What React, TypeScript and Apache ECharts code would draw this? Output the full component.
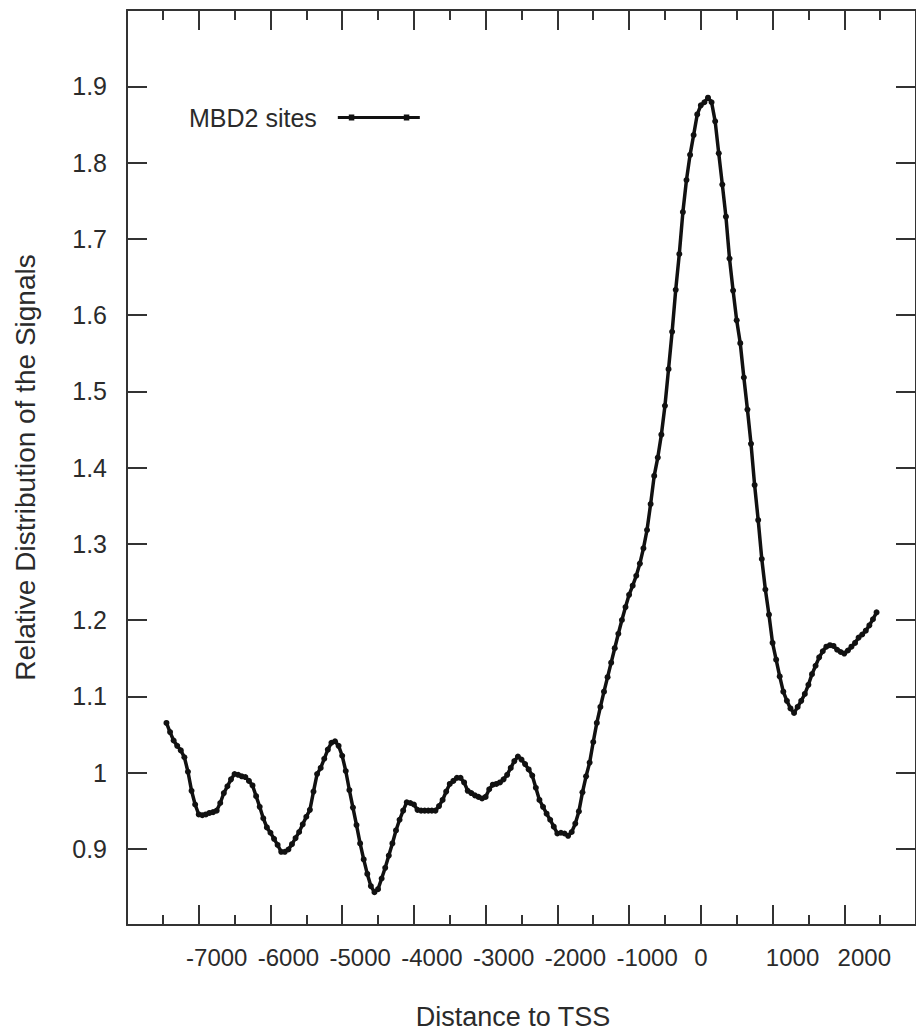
import React, { useEffect, useRef } from "react";
import * as echarts from "echarts";

// Distance to TSS (bp), one bin every 50 bp
const positions: number[] = [
  -7450, -7400, -7350, -7300, -7250, -7200, -7150, -7100, -7050, -7000,
  -6950, -6900, -6850, -6800, -6750, -6700, -6650, -6600, -6550, -6500,
  -6450, -6400, -6350, -6300, -6250, -6200, -6150, -6100, -6050, -6000,
  -5950, -5900, -5850, -5800, -5750, -5700, -5650, -5600, -5550, -5500,
  -5450, -5400, -5350, -5300, -5250, -5200, -5150, -5100, -5050, -5000,
  -4950, -4900, -4850, -4800, -4750, -4700, -4650, -4600, -4550, -4500,
  -4450, -4400, -4350, -4300, -4250, -4200, -4150, -4100, -4050, -4000,
  -3950, -3900, -3850, -3800, -3750, -3700, -3650, -3600, -3550, -3500,
  -3450, -3400, -3350, -3300, -3250, -3200, -3150, -3100, -3050, -3000,
  -2950, -2900, -2850, -2800, -2750, -2700, -2650, -2600, -2550, -2500,
  -2450, -2400, -2350, -2300, -2250, -2200, -2150, -2100, -2050, -2000,
  -1950, -1900, -1850, -1800, -1750, -1700, -1650, -1600, -1550, -1500,
  -1450, -1400, -1350, -1300, -1250, -1200, -1150, -1100, -1050, -1000,
  -950, -900, -850, -800, -750, -700, -650, -600, -550, -500,
  -450, -400, -350, -300, -250, -200, -150, -100, -50, 0,
  50, 100, 150, 200, 250, 300, 350, 400, 450, 500,
  550, 600, 650, 700, 750, 800, 850, 900, 950, 1000,
  1050, 1100, 1150, 1200, 1250, 1300, 1350, 1400, 1450, 1500,
  1550, 1600, 1650, 1700, 1750, 1800, 1850, 1900, 1950, 2000,
  2050, 2100, 2150, 2200, 2250, 2300, 2350, 2400, 2450,
];

// Relative distribution of MBD2 signals
const mbd2Signal: number[] = [
  1.065, 1.053, 1.042, 1.035, 1.029, 1.020, 1.001, 0.976, 0.958, 0.945,
  0.944, 0.945, 0.947, 0.948, 0.950, 0.960, 0.973, 0.982, 0.991, 0.998,
  0.997, 0.995, 0.994, 0.989, 0.983, 0.969, 0.955, 0.940, 0.928, 0.921,
  0.913, 0.905, 0.896, 0.896, 0.899, 0.906, 0.914, 0.922, 0.932, 0.942,
  0.951, 0.975, 0.998, 1.006, 1.018, 1.030, 1.039, 1.041, 1.035, 1.022,
  1.002, 0.977, 0.954, 0.931, 0.907, 0.886, 0.867, 0.851, 0.843, 0.847,
  0.861, 0.875, 0.891, 0.907, 0.924, 0.938, 0.950, 0.961, 0.960, 0.958,
  0.951, 0.950, 0.950, 0.950, 0.950, 0.950, 0.956, 0.964, 0.975, 0.985,
  0.989, 0.993, 0.993, 0.987, 0.976, 0.973, 0.970, 0.968, 0.966, 0.968,
  0.978, 0.984, 0.985, 0.987, 0.991, 0.997, 1.006, 1.015, 1.021, 1.017,
  1.011, 1.004, 0.996, 0.980, 0.964, 0.955, 0.946, 0.938, 0.929, 0.920,
  0.921, 0.920, 0.917, 0.922, 0.933, 0.949, 0.974, 0.995, 1.013, 1.040,
  1.065, 1.086, 1.106, 1.125, 1.144, 1.163, 1.182, 1.200, 1.217, 1.233,
  1.245, 1.258, 1.274, 1.294, 1.318, 1.352, 1.389, 1.413, 1.443, 1.481,
  1.529, 1.578, 1.633, 1.680, 1.735, 1.777, 1.810, 1.836, 1.863, 1.875,
  1.879, 1.885, 1.879, 1.854, 1.812, 1.771, 1.729, 1.674, 1.632, 1.593,
  1.563, 1.518, 1.476, 1.431, 1.377, 1.331, 1.280, 1.240, 1.207, 1.170,
  1.148, 1.126, 1.106, 1.094, 1.084, 1.078, 1.086, 1.094, 1.103, 1.115,
  1.129, 1.140, 1.151, 1.159, 1.165, 1.167, 1.166, 1.161, 1.158, 1.156,
  1.160, 1.165, 1.170, 1.177, 1.181, 1.186, 1.193, 1.201, 1.210,
];

const seriesName = "MBD2 sites";
const xTitle = "Distance to TSS";
const yTitle = "Relative Distribution of the Signals";

const FONT = '"Liberation Sans", Arial, Helvetica, sans-serif';
const INK = "#111111";
const FRAME = "#333333";
const TEXT = "#2b2b2b";

export default function App() {
  const ref = useRef<HTMLDivElement>(null);

  useEffect(() => {
    if (!ref.current) return;
    const chart = echarts.init(ref.current, undefined, { renderer: "svg" });

    const frameLine = { show: true, onZero: false, lineStyle: { color: FRAME, width: 2 } };
    const majorTick = { show: true, inside: true, length: 20, lineStyle: { color: FRAME, width: 2 } };
    const minorTick = { show: true, splitNumber: 2, length: 10, lineStyle: { color: FRAME, width: 2 } };

    const xBase = {
      type: "value" as const,
      min: -8000,
      max: 3000,
      interval: 1000,
      axisLine: frameLine,
      axisTick: majorTick,
      minorTick,
      splitLine: { show: false },
      minorSplitLine: { show: false },
    };
    const yBase = {
      type: "value" as const,
      min: 0.8,
      max: 2.0,
      interval: 0.1,
      axisLine: frameLine,
      axisTick: majorTick,
      splitLine: { show: false },
    };

    chart.setOption({
      animation: false,
      backgroundColor: "#ffffff",
      textStyle: { fontFamily: FONT },
      grid: { left: 127, top: 10, right: -5, bottom: 108, containLabel: false },
      legend: {
        show: true,
        data: [seriesName],
        left: 189,
        top: 105,
        padding: 0,
        align: "right",
        itemWidth: 82,
        itemHeight: 8,
        icon: "path://M0,2.4h82v3.2h-82z M11,1h5.5v6h-5.5z M66,1h5.5v6h-5.5z",
        itemStyle: { color: INK, borderWidth: 0 },
        textStyle: { fontSize: 25, color: TEXT, fontFamily: FONT, padding: [0, 16, 0, 0] },
        selectedMode: false,
      },
      xAxis: [
        {
          ...xBase,
          position: "bottom",
          name: xTitle,
          nameLocation: "middle",
          nameGap: 78,
          nameTextStyle: { fontSize: 27, color: TEXT, fontFamily: FONT, padding: [0, 17, 0, 0] },
          axisLabel: {
            show: true,
            margin: 20,
            showMinLabel: false,
            showMaxLabel: false,
            fontSize: 24,
            color: TEXT,
            fontFamily: FONT,
            formatter: (v: number) =>
              v === 0 ? `{z|0}` : v > 0 ? `{p|${v}}` : `{n|${v}}`,
            rich: {
              z: { fontSize: 24, color: TEXT, fontFamily: FONT },
              n: { fontSize: 24, color: TEXT, fontFamily: FONT, padding: [0, 0, 0, 36] },
              p: { fontSize: 24, color: TEXT, fontFamily: FONT, padding: [0, 0, 0, 40] },
            },
          },
        },
        {
          ...xBase,
          position: "top",
          axisLabel: { show: false },
        },
      ],
      yAxis: [
        {
          ...yBase,
          position: "left",
          name: yTitle,
          nameLocation: "middle",
          nameRotate: 90,
          nameGap: 88,
          nameTextStyle: { fontSize: 28, color: TEXT, fontFamily: FONT },
          axisLabel: {
            show: true,
            margin: 20,
            showMinLabel: false,
            showMaxLabel: false,
            fontSize: 25,
            color: TEXT,
            fontFamily: FONT,
            formatter: (v: number) => String(Math.round(v * 10) / 10),
          },
        },
        {
          ...yBase,
          position: "right",
          axisLabel: { show: false },
        },
      ],
      series: [
        {
          name: seriesName,
          type: "line",
          xAxisIndex: 0,
          yAxisIndex: 0,
          data: positions.map((x, i) => [x, mbd2Signal[i]]),
          symbol: "circle",
          symbolSize: 6,
          showSymbol: true,
          itemStyle: { color: INK, borderWidth: 0 },
          lineStyle: { color: INK, width: 3.5 },
          emphasis: { disabled: true },
        },
      ],
    });

    return () => chart.dispose();
  }, []);

  return (
    <div
      ref={ref}
      style={{ position: "absolute", left: 0, top: 0, width: 916, height: 1035, overflow: "hidden" }}
    />
  );
}
